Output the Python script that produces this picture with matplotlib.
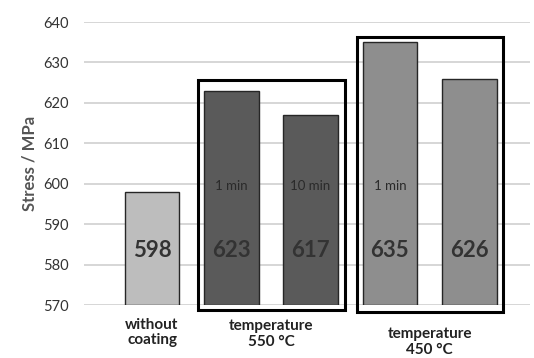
import numpy as np
import matplotlib.pyplot as plt
from matplotlib.patches import Rectangle

plt.rcParams['font.family'] = ['Lato', 'DejaVu Sans']

# data
stress = [598, 623, 617, 635, 626]
time_labels = ['', '1 min', '10 min', '1 min', '']
bar_colors = ['#bdbdbd', '#5a5a5a', '#5a5a5a', '#8e8e8e', '#8e8e8e']
group_labels = ['without\ncoating', 'temperature\n550 \u00b0C', 'temperature\n450 \u00b0C']
group_members = [[0], [1, 2], [3, 4]]
yticks = [570, 580, 590, 600, 610, 620, 630, 640]

fig = plt.figure(figsize=(5.34, 3.58), dpi=100)
ax = fig.add_axes([0.157, 0.148, 0.836, 0.7905])

x = np.arange(len(stress))
ax.bar(x, [v - 570 for v in stress], bottom=570, width=0.69,
       color=bar_colors, edgecolor='#262626', linewidth=1.0, zorder=3)

ax.set_ylim(570, 640)
ax.set_xlim(-0.86, 4.77)
ax.set_yticks(yticks)
ax.tick_params(axis='y', length=0, labelsize=10.5, labelcolor='#333333', pad=11)
ax.set_xticks([])
for s in ax.spines.values():
    s.set_visible(False)
ax.grid(axis='y', color='#d0d0d0', linewidth=1.2, zorder=0)
ax.set_ylabel('Stress / MPa', fontsize=12, fontweight='bold', color='#555555', labelpad=4)

# value and time labels inside bars
for i, v in enumerate(stress):
    ax.text(x[i], 583.5, str(v), ha='center', va='center', fontsize=16,
            fontweight='bold', color='#333333', zorder=4)
    if time_labels[i]:
        ax.text(x[i], 599.5, time_labels[i], ha='center', va='center',
                fontsize=9.5, color='#2a2a2a', zorder=4)

# group labels and boxes
label_y = [-0.045, -0.05, -0.078]
for g, members in enumerate(group_members):
    cx = np.mean(x[members])
    ax.text(cx, label_y[g], group_labels[g], transform=ax.get_xaxis_transform(),
            ha='center', va='top', fontsize=11, fontweight='bold', color='#222222',
            linespacing=1.15)

box_specs = [(1, 2, 625.7, 568.8), (3, 4, 636.3, 568.3)]
for i0, i1, top, bot in box_specs:
    left = x[i0] - 0.42
    right = x[i1] + 0.43
    ax.add_patch(Rectangle((left, bot), right - left, top - bot, fill=False,
                           edgecolor='black', linewidth=2.2, zorder=5, clip_on=False))

fig.savefig('out.png', dpi=100)
